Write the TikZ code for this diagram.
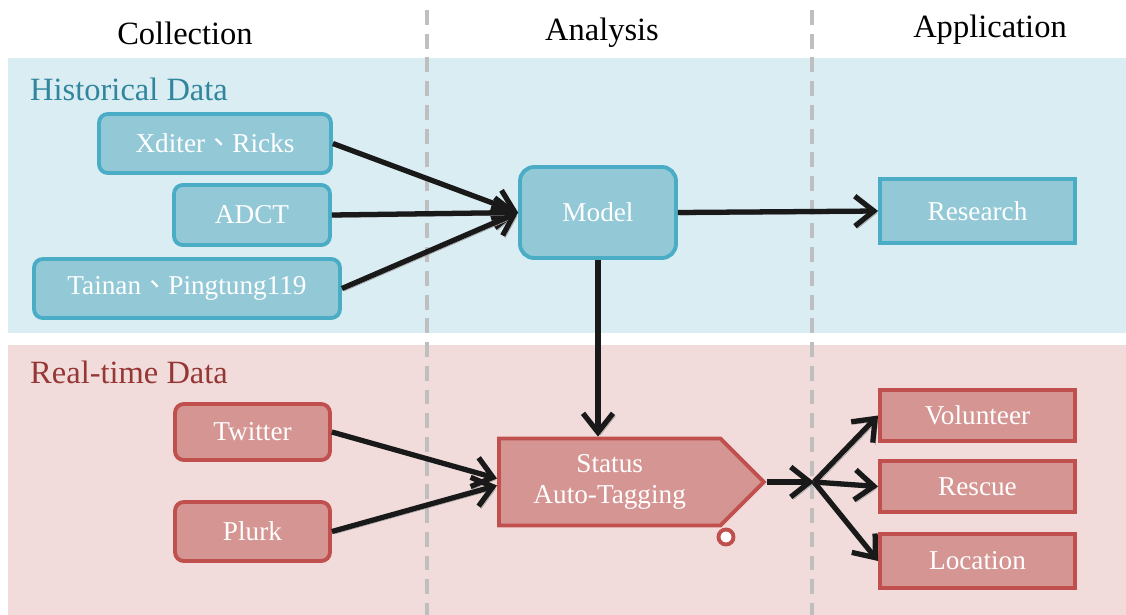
\documentclass[tikz,border=0pt]{standalone}
\usepackage{fontspec}
\setmainfont{Liberation Serif}
\newfontfamily\cjk{Noto Sans CJK TC}
\usetikzlibrary{arrows.meta,positioning,shapes.symbols}
\definecolor{histBand}{HTML}{DAEDF3}
\definecolor{histFill}{HTML}{93C9D7}
\definecolor{histLine}{HTML}{4BACC6}
\definecolor{histText}{HTML}{31859C}
\definecolor{liveBand}{HTML}{F2DCDB}
\definecolor{liveFill}{HTML}{D59593}
\definecolor{liveLine}{HTML}{C0504D}
\definecolor{liveText}{HTML}{953735}
\definecolor{sepGrey}{HTML}{BFBFBF}
\tikzset{
  >={Straight Barb[length=3.8mm,width=6mm]},
  head/.style={font=\fontsize{18.5}{20}\selectfont},
  band/.style={font=\fontsize{18.5}{20}\selectfont, anchor=west},
  hbox/.style={rounded corners=5pt, draw=histLine, fill=histFill, line width=2.2pt,
              text=white, align=center, font=\fontsize{15.5}{18}\selectfont},
  hsq/.style={hbox, rounded corners=0pt},
  rbox/.style={rounded corners=5pt, draw=liveLine, fill=liveFill, line width=2.2pt,
              text=white, align=center, font=\fontsize{15.5}{18}\selectfont},
  rsq/.style={rbox, rounded corners=0pt},
  link/.style={->, draw=black!90, line width=3pt,
              preaction={draw=black!35, transform canvas={shift={(1.4pt,-1.4pt)}}}},
  sep/.style={draw=sepGrey, line width=1.8pt, dash pattern=on 8.5pt off 5pt},
}

\begin{document}
\begin{tikzpicture}[x=0.02cm,y=-0.02cm]
        \useasboundingbox (0,0) rectangle (1126,615);
        \fill[histBand] (8,58) rectangle (1126,333);
        \fill[liveBand] (8,345) rectangle (1126,615);
        \foreach \x in {427,812}{
          \draw[sep] (\x,10) -- (\x,615);}
        \node[head] (hcol) at (185,33) {Collection};
        \node[head] (hana) at (602,33) {Analysis};
        \node[head] (happ) at (990,30) {Application};
        \node[band,text=histText] (hist) at (24,89) {Historical Data};
        \node[band,text=liveText] (live) at (24,372) {Real-time Data};
        % historical sources
        \node[hbox,minimum width=4.64cm,minimum height=1.18cm] (xdit) at (215,143.5) {Xditer{\cjk 、}Ricks};
        \node[hbox,minimum width=3.12cm,minimum height=1.2cm] (adct) at (252,215) {ADCT};
        \node[hbox,minimum width=6.12cm,minimum height=1.18cm] (tain) at (187,288.5) {Tainan{\cjk 、}Pingtung119};
        \node[hbox,minimum width=3.12cm,minimum height=1.82cm,rounded corners=8pt] (model) at (598,212.5) {Model};
        \node[hsq,minimum width=3.9cm,minimum height=1.28cm] (research) at (977.5,211) {Research};
        % real-time sources
        \node[rbox,minimum width=3.1cm,minimum height=1.12cm] (twitter) at (252.5,432) {Twitter};
        \node[rbox,minimum width=3.1cm,minimum height=1.18cm] (plurk) at (252.5,531.5) {Plurk};
        \node[rsq,signal,signal to=east,signal pointer angle=90,minimum width=5.3cm,
              minimum height=1.74cm,inner sep=0pt,anchor=west] (tag) at (497,482) {Status\\Auto-Tagging};
        \node[circle,draw=liveLine,fill=white,line width=2.2pt,minimum size=0.3cm,inner sep=0pt] (dot) at (726,537) {};
        \node[rsq,minimum width=3.9cm,minimum height=1.02cm] (vol) at (977.5,415.5) {Volunteer};
        \node[rsq,minimum width=3.9cm,minimum height=1.02cm] (res) at (977.5,486.5) {Rescue};
        \node[rsq,minimum width=3.9cm,minimum height=1.08cm] (loc) at (977.5,561) {Location};
        \coordinate (fork) at (814,482);
        % connectors
        \draw[link] (xdit.east) -- (model.west);
        \draw[link] (adct.east) -- (model.west);
        \draw[link] (tain.east) -- (model.west);
        \draw[link] (model.east) -- (research.west);
        \draw[link] (model.south) -- (model.south |- tag.north);
        \draw[link] (twitter.east) -- ([yshift=2pt]tag.west);
        \draw[link] (plurk.east) -- ([yshift=-2pt]tag.west);
        \draw[link] (tag.east) -- (fork);
        \foreach \t in {vol,res,loc}{
          \draw[link] (fork) -- (\t.west);}
      \end{tikzpicture}
\end{document}
